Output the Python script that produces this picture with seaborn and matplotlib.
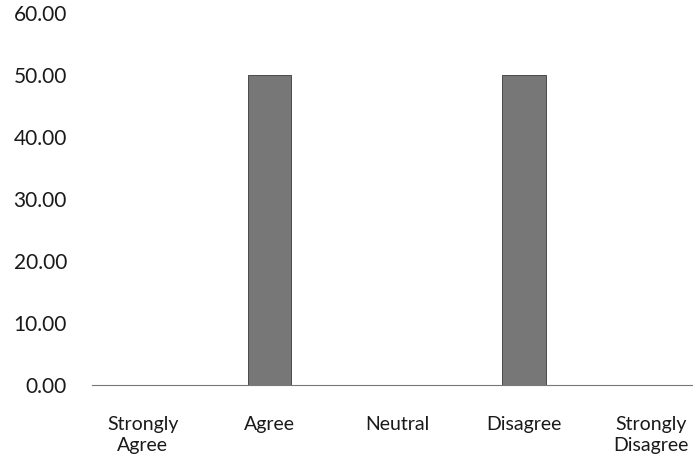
import pandas as pd
import matplotlib
matplotlib.use("Agg")
import matplotlib.pyplot as plt
import seaborn as sns

# Datos
categorias = ["Strongly\nAgree", "Agree", "Neutral", "Disagree", "Strongly\nDisagree"]
porcentajes = [0.0, 50.0, 0.0, 50.0, 0.0]
ticks_y = [0, 10, 20, 30, 40, 50, 60]

df = pd.DataFrame({"categoria": categorias, "valor": porcentajes})

sns.set_style("white")
plt.rcParams["font.family"] = ["Lato", "DejaVu Sans"]

fig = plt.figure(figsize=(6.93, 4.72), dpi=100)
ax = fig.add_axes([92 / 693, 87 / 472, 601 / 693, 372 / 472])

sns.barplot(data=df, x="categoria", y="valor", color="#777777", width=0.34,
            saturation=1, edgecolor="#4a4a4a", linewidth=0.7, ax=ax)

ax.set_xlim(-0.40, 4.33)
ax.set_ylim(0, 60)
ax.set_yticks(ticks_y)
ax.set_yticklabels([f"{t:.2f}" for t in ticks_y])
ax.set_xlabel("")
ax.set_ylabel("")

for s in ["top", "right", "left"]:
    ax.spines[s].set_visible(False)
ax.spines["bottom"].set_linestyle((0, (1, 1)))
ax.spines["bottom"].set_color("#777777")
ax.spines["bottom"].set_linewidth(0.8)

ax.tick_params(axis="y", length=0, pad=18, labelsize=15, labelcolor="#1a1a1a")
ax.tick_params(axis="x", length=0, pad=22, labelsize=14, labelcolor="#1a1a1a")
for lab in ax.get_xticklabels():
    lab.set_linespacing(1.3)

fig.savefig("out.png", dpi=100)
